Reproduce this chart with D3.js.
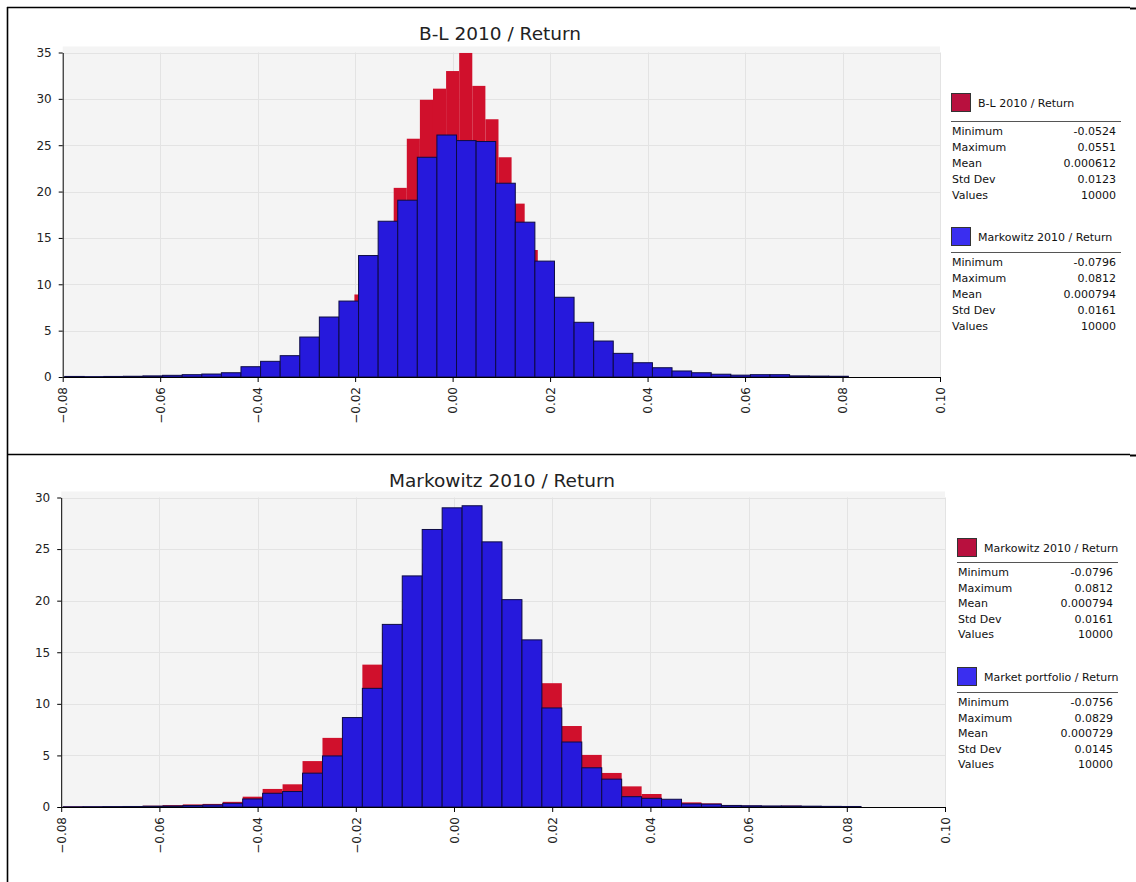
<!DOCTYPE html>
<html>
<head>
<meta charset="utf-8">
<script src="https://cdn.jsdelivr.net/npm/d3@7"></script>
<style>
  body { margin: 0; background: #ffffff; }
  svg { display: block; }
</style>
</head>
<body>
<svg id="chart" width="1136" height="882"></svg>
<script>
// ---- shared axis values ----
const xTickValues = [-0.08, -0.06, -0.04, -0.02, 0.00, 0.02, 0.04, 0.06, 0.08, 0.10];
const yTicksTop = [0, 5, 10, 15, 20, 25, 30, 35];
const yTicksBottom = [0, 5, 10, 15, 20, 25, 30];
const statNames = ["Minimum", "Maximum", "Mean", "Std Dev", "Values"];

// ---- summary statistics per simulated output ----
const blStats = ["-0.0524", "0.0551", "0.000612", "0.0123", "10000"];
const markowitzStats = ["-0.0796", "0.0812", "0.000794", "0.0161", "10000"];
const marketStats = ["-0.0756", "0.0829", "0.000729", "0.0145", "10000"];

// ---- histogram ranges (40 bins across each range) ----
const blRange = [-0.0524, 0.0551];
const markowitzRangeTop = [-0.0796, 0.0812];
const sharedRangeBottom = [-0.0796, 0.0829];

// ---- probability density per bin ----
const blDensity = [
  0.05, 0.1, 0.15, 0.25, 0.4, 0.6, 0.95, 1.5, 2.3, 3.1,
  4.6, 6.3, 8.9, 11.8, 15.8, 20.4, 25.7, 29.9, 31.1, 33.0,
  34.95, 31.4, 27.8, 23.7, 18.7, 13.7, 10.5, 7.8, 5.5, 3.9,
  2.6, 1.8, 1.2, 0.8, 0.55, 0.35, 0.25, 0.15, 0.08, 0.05
];
const markowitzDensityTop = [
  0.06, 0.04, 0.06, 0.08, 0.12, 0.18, 0.25, 0.32, 0.46, 1.11,
  1.69, 2.3, 4.31, 6.47, 8.19, 13.1, 16.8, 19.07, 23.7, 26.1,
  25.5, 25.4, 20.9, 16.7, 12.5, 8.6, 5.9, 3.88, 2.55, 1.54,
  1.0, 0.65, 0.46, 0.3, 0.2, 0.25, 0.25, 0.12, 0.1, 0.08
];
const markowitzDensityBottom = [
  0.05, 0.04, 0.06, 0.08, 0.12, 0.18, 0.25, 0.3, 0.5, 1.0,
  1.75, 2.2, 4.45, 6.7, 8.5, 13.8, 16.9, 19.2, 23.6, 26.0,
  25.6, 25.2, 19.8, 16.0, 12.0, 7.85, 5.05, 3.3, 2.0, 1.26,
  0.6, 0.45, 0.35, 0.15, 0.12, 0.1, 0.12, 0.08, 0.06, 0.04
];
const marketDensity = [
  0.02, 0.03, 0.04, 0.05, 0.08, 0.1, 0.15, 0.2, 0.36, 0.78,
  1.33, 1.5, 3.28, 4.95, 8.67, 11.5, 17.7, 22.4, 26.9, 29.0,
  29.2, 25.7, 20.1, 16.2, 9.6, 6.3, 3.8, 2.7, 1.0, 0.84,
  0.75, 0.3, 0.28, 0.15, 0.12, 0.1, 0.1, 0.08, 0.06, 0.05
];

const RED = "#d0102c";
const BLUE = "#2619dc";
const BLUE_EDGE = "#0d0b45";

const svg = d3.select("#chart");

// frame lines around the two panels
const frame = svg.append("g").attr("stroke", "#000");
frame.append("line").attr("x1", 7).attr("x2", 1130).attr("y1", 7.5).attr("y2", 7.5).attr("stroke-width", 1.6);
frame.append("line").attr("x1", 7.5).attr("x2", 7.5).attr("y1", 7).attr("y2", 882).attr("stroke-width", 1.6);
frame.append("line").attr("x1", 7).attr("x2", 1130).attr("y1", 454.5).attr("y2", 454.5).attr("stroke-width", 1.6);
frame.append("line").attr("x1", 1130).attr("x2", 1136).attr("y1", 8.5).attr("y2", 8.5).attr("stroke-width", 2);
frame.append("line").attr("x1", 1130).attr("x2", 1136).attr("y1", 455.5).attr("y2", 455.5).attr("stroke-width", 2);

function drawPanel(cfg) {
  const g = svg.append("g");
  const x = d3.scaleLinear().domain([-0.08, 0.10]).range(cfg.xRange);
  const y = d3.scaleLinear().domain([0, cfg.yMax]).range(cfg.yRange);

  // plot background
  g.append("rect")
    .attr("x", cfg.xRange[0]).attr("y", cfg.yRange[1] - 6)
    .attr("width", cfg.xRange[1] - cfg.xRange[0])
    .attr("height", cfg.yRange[0] - cfg.yRange[1] + 6)
    .attr("fill", "#f4f4f4");

  // faint grid
  const grid = g.append("g").attr("stroke", "#e3e3e3").attr("stroke-width", 1);
  grid.selectAll("line.h").data(cfg.yTicks.filter(d => d > 0)).join("line")
    .attr("x1", cfg.xRange[0]).attr("x2", cfg.xRange[1])
    .attr("y1", d => Math.round(y(d)) + 0.5).attr("y2", d => Math.round(y(d)) + 0.5);
  grid.selectAll("line.v").data(xTickValues.slice(1)).join("line")
    .attr("x1", d => Math.round(x(d)) + 0.5).attr("x2", d => Math.round(x(d)) + 0.5)
    .attr("y1", cfg.yRange[1]).attr("y2", cfg.yRange[0]);

  // histogram series, first one underneath
  cfg.series.forEach(s => {
    const n = s.values.length;
    const w = (s.range[1] - s.range[0]) / n;
    const bins = s.values.map((v, i) => ({ x0: s.range[0] + i * w, x1: s.range[0] + (i + 1) * w, v }));
    g.append("g").selectAll("rect").data(bins).join("rect")
      .attr("x", d => x(d.x0))
      .attr("width", d => x(d.x1) - x(d.x0))
      .attr("y", d => y(d.v))
      .attr("height", d => y(0) - y(d.v))
      .attr("fill", s.color)
      .attr("stroke", s.stroke || "none")
      .attr("stroke-width", s.stroke ? 1 : 0);
  });

  // y axis
  const yAxis = g.append("g")
    .attr("transform", `translate(${cfg.xRange[0]},0)`)
    .call(d3.axisLeft(y).tickValues(cfg.yTicks).tickFormat(d3.format("d")).tickSize(4).tickPadding(7).tickSizeOuter(0));
  yAxis.selectAll("text").attr("font-family", "DejaVu Sans, sans-serif").attr("font-size", 12).attr("fill", "#222");
  yAxis.selectAll("line, path").attr("stroke", "#000");

  // x axis with vertical labels
  const xAxis = g.append("g")
    .attr("transform", `translate(0,${cfg.yRange[0]})`)
    .call(d3.axisBottom(x).tickValues(xTickValues).tickFormat(d3.format(".2f")).tickSize(5).tickSizeOuter(0));
  xAxis.selectAll("line, path").attr("stroke", "#000");
  xAxis.selectAll("text")
    .attr("font-family", "DejaVu Sans, sans-serif").attr("font-size", 12).attr("fill", "#222")
    .attr("transform", "rotate(-90)")
    .attr("text-anchor", "end")
    .attr("x", -10).attr("y", 0).attr("dy", "0.35em");

  // title
  g.append("text")
    .attr("x", cfg.titleX).attr("y", cfg.titleY)
    .attr("text-anchor", "middle")
    .attr("font-family", "DejaVu Sans, sans-serif").attr("font-size", 18.5).attr("fill", "#222")
    .text(cfg.title);

  // legend with statistics tables
  cfg.legend.forEach(L => {
    const lg = g.append("g").attr("font-family", "DejaVu Sans, sans-serif").attr("font-size", 11).attr("fill", "#111");
    lg.append("rect")
      .attr("x", L.x + 0.5).attr("y", L.swatchY + 0.5).attr("width", 19).attr("height", 18)
      .attr("fill", L.swatch).attr("stroke", "#333").attr("stroke-width", 1);
    lg.append("text").attr("x", L.x + 27).attr("y", L.swatchY + 14).text(L.label);
    lg.append("line")
      .attr("x1", L.x).attr("x2", L.x2 + 5).attr("y1", L.lineY + 0.5).attr("y2", L.lineY + 0.5)
      .attr("stroke", "#555").attr("stroke-width", 1);
    statNames.forEach((name, i) => {
      const yy = L.lineY + 14 + i * L.rowStep;
      lg.append("text").attr("x", L.x + 1).attr("y", yy).text(name);
      lg.append("text").attr("x", L.x2).attr("y", yy).attr("text-anchor", "end").text(L.values[i]);
    });
  });
}

drawPanel({
  xRange: [62.7, 940],
  yRange: [377, 52.5],
  yMax: 35,
  yTicks: yTicksTop,
  title: "B-L 2010 / Return",
  titleX: 500, titleY: 40,
  series: [
    { values: blDensity, range: blRange, color: RED },
    { values: markowitzDensityTop, range: markowitzRangeTop, color: BLUE, stroke: BLUE_EDGE }
  ],
  legend: [
    { x: 951, x2: 1116, swatchY: 93, lineY: 121, rowStep: 16, swatch: "#b8103e", label: "B-L 2010 / Return", values: blStats },
    { x: 951, x2: 1116, swatchY: 227, lineY: 252, rowStep: 16, swatch: "#3a2ef0", label: "Markowitz 2010 / Return", values: markowitzStats }
  ]
});

drawPanel({
  xRange: [61.2, 945],
  yRange: [807, 497.5],
  yMax: 30,
  yTicks: yTicksBottom,
  title: "Markowitz 2010 / Return",
  titleX: 502, titleY: 487,
  series: [
    { values: markowitzDensityBottom, range: sharedRangeBottom, color: RED },
    { values: marketDensity, range: sharedRangeBottom, color: BLUE, stroke: BLUE_EDGE }
  ],
  legend: [
    { x: 957, x2: 1113, swatchY: 538, lineY: 562, rowStep: 15.5, swatch: "#b8103e", label: "Markowitz 2010 / Return", values: markowitzStats },
    { x: 957, x2: 1113, swatchY: 667, lineY: 692, rowStep: 15.5, swatch: "#3a2ef0", label: "Market portfolio / Return", values: marketStats }
  ]
});
</script>
</body>
</html>
